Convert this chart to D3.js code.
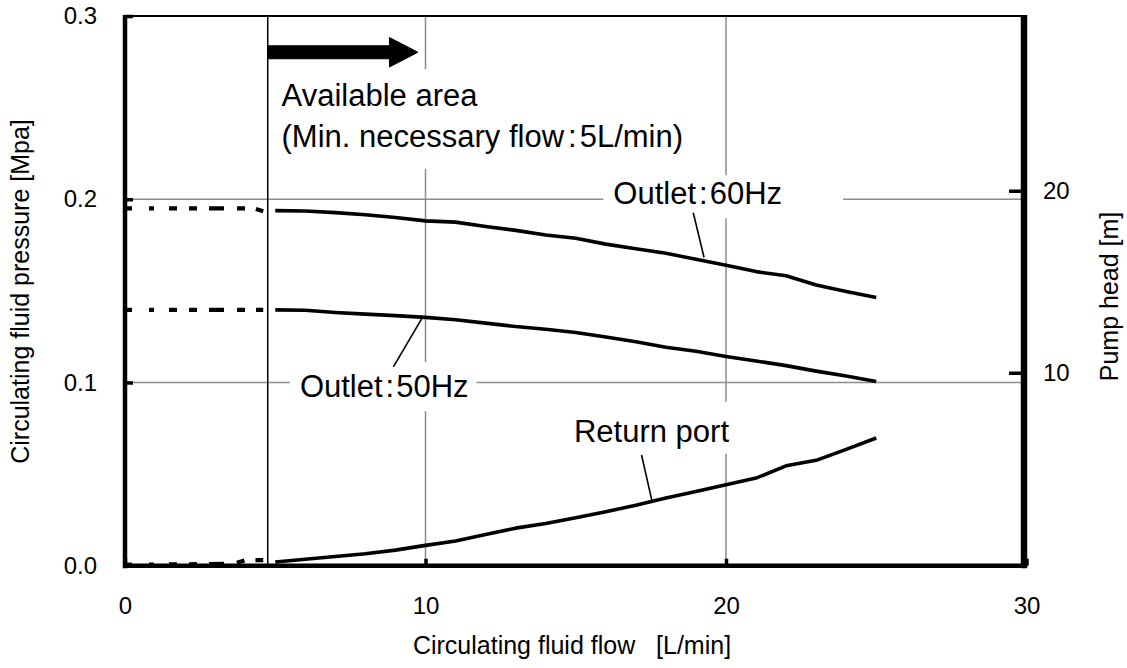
<!DOCTYPE html>
<html>
<head>
<meta charset="utf-8">
<script src="https://cdn.jsdelivr.net/npm/d3@7"></script>
<style>
  html, body { margin: 0; padding: 0; background: #fff; }
  svg { display: block; font-family: "Liberation Sans", Arial, sans-serif; }
</style>
</head>
<body>
<svg id="chart" width="1127" height="668"></svg>
<script>
// ---------- data ----------
const flow = [5, 6, 7, 8, 9, 10, 11, 12, 13, 14, 15, 16, 17, 18, 19, 20, 21, 22, 23, 24, 25];
const outlet60 = [0.1938, 0.1936, 0.1927, 0.1915, 0.1900, 0.1882, 0.1875, 0.1851, 0.1830, 0.1805, 0.1787, 0.1755, 0.1730, 0.1705, 0.1672, 0.1640, 0.1605, 0.1582, 0.1532, 0.1497, 0.1464];
const outlet50 = [0.1396, 0.1394, 0.1382, 0.1373, 0.1365, 0.1355, 0.1342, 0.1324, 0.1305, 0.1290, 0.1273, 0.1248, 0.1222, 0.1192, 0.1170, 0.1142, 0.1117, 0.1092, 0.1062, 0.1035, 0.1005];
const returnPort = [0.0020, 0.0035, 0.0050, 0.0065, 0.0085, 0.0111, 0.0135, 0.0170, 0.0205, 0.0230, 0.0262, 0.0295, 0.0330, 0.0370, 0.0405, 0.0442, 0.0478, 0.0545, 0.0575, 0.0635, 0.0697];

// dashed (below minimum flow) portions
const dashFlow60 = [0, 4.3, 4.6];
const dashOutlet60 = [0.195, 0.195, 0.1935];
const dashFlow50 = [0, 4.6];
const dashOutlet50 = [0.1396, 0.1396];
const dashFlowRet = [0, 3.6, 4.0, 4.6];
const dashReturn = [0.0005, 0.001, 0.003, 0.003];

const minFlow = 4.75;            // "available area" boundary line as drawn
const xTicks = [0, 10, 20, 30];
const yTicks = [0.0, 0.1, 0.2, 0.3];
const headTicks = [10, 20];

const xTitle = "Circulating fluid flow   [L/min]";
const yTitle = "Circulating fluid pressure [Mpa]";
const y2Title = "Pump head [m]";

// ---------- layout ----------
const svg = d3.select("#chart");
const x = d3.scaleLinear().domain([0, 30]).range([125, 1026.5]);
const y = d3.scaleLinear().domain([0, 0.3]).range([565.7, 16]);
const yHead = d3.scaleLinear().domain([-0.6, 29.6]).range([565.7, 16]);

// gridlines
const grid = svg.append("g").attr("stroke", "#8c8c8c").attr("stroke-width", 1.5);
grid.selectAll("line.gx").data([10, 20]).join("line")
  .attr("x1", d => x(d)).attr("x2", d => x(d))
  .attr("y1", y(0.3)).attr("y2", y(0));
grid.selectAll("line.gy").data([0.1, 0.2]).join("line")
  .attr("x1", x(0)).attr("x2", x(30) - 4)
  .attr("y1", d => y(d)).attr("y2", d => y(d));

// top border
svg.append("line").attr("x1", x(0)).attr("x2", x(30)).attr("y1", y(0.3)).attr("y2", y(0.3))
  .attr("stroke", "#000").attr("stroke-width", 2);

// min flow vertical line
svg.append("line").attr("x1", x(minFlow)).attr("x2", x(minFlow)).attr("y1", y(0.3)).attr("y2", y(0))
  .attr("stroke", "#000").attr("stroke-width", 1.5);

// ---------- annotation labels with white background ----------
function label(lines, fx, fp, pads, lineGap) {
  const g = svg.append("g");
  const rect = g.append("rect").attr("fill", "#fff");
  const t = g.append("text").attr("font-size", 31).attr("fill", "#000");
  lines.forEach((parts, i) => {
    parts.forEach((p, j) => {
      const ts = t.append("tspan").text(p.s);
      if (j === 0) ts.attr("x", x(fx)).attr("y", y(fp) + i * lineGap);
      if (p.dx) ts.attr("dx", p.dx);
    });
  });
  const b = t.node().getBBox();
  rect.attr("x", b.x - pads[0]).attr("y", b.y - pads[2])
    .attr("width", b.width + pads[0] + pads[1]).attr("height", b.height + pads[2] + pads[3]);
  return g;
}

label([[{s: "Available area"}], [{s: "(Min. necessary flow"}, {s: ":", dx: 4}, {s: "5L/min)", dx: 3}]],
  5.21, 0.2508, [9, 8, 9, 15], 40.7);
label([[{s: "Outlet"}, {s: ":", dx: 3}, {s: "50Hz", dx: 2}]], 5.82, 0.092, [10, 8, 7, 7], 0);
label([[{s: "Outlet"}, {s: ":", dx: 3}, {s: "60Hz", dx: 2}]], 16.25, 0.1973, [10, 61, 1, 7], 0);
label([[{s: "Return port"}]], 14.94, 0.0676, [9, 9, 12, 5], 0);

// leader lines
const leaders = [
  [[8.93, 0.1085], [9.91, 0.1358]],
  [[18.91, 0.1926], [19.27, 0.1682]],
  [[17.19, 0.0604], [17.53, 0.0358]]
];
svg.append("g").selectAll("line").data(leaders).join("line")
  .attr("x1", d => x(d[0][0])).attr("y1", d => y(d[0][1]))
  .attr("x2", d => x(d[1][0])).attr("y2", d => y(d[1][1]))
  .attr("stroke", "#000").attr("stroke-width", 1.6);

// arrow
const arrowY = 0.2802, shaftEnd = 8.8, tip = 9.75;
const ay = y(arrowY);
const arrowPts = [
  [x(minFlow), ay - 6.5], [x(shaftEnd), ay - 6.5], [x(shaftEnd), ay - 14.7],
  [x(tip), ay], [x(shaftEnd), ay + 14.7], [x(shaftEnd), ay + 6.5], [x(minFlow), ay + 6.5]
];
svg.append("polygon").attr("points", arrowPts.map(p => p.join(",")).join(" "))
  .attr("fill", "#000").attr("stroke", "#000").attr("stroke-width", 1);

// ---------- curves ----------
const line = d3.line().x(d => x(d[0])).y(d => y(d[1]));
const solid = [outlet60, outlet50, returnPort].map(v => flow.map((f, i) => [f, v[i]]));
svg.append("g").selectAll("path").data(solid).join("path")
  .attr("d", line).attr("fill", "none").attr("stroke", "#000")
  .attr("stroke-width", 3.6).attr("stroke-linejoin", "round");

const dashed = [
  dashFlow60.map((f, i) => [f, dashOutlet60[i]]),
  dashFlow50.map((f, i) => [f, dashOutlet50[i]]),
  dashFlowRet.map((f, i) => [f, dashReturn[i]])
];
svg.append("g").selectAll("path").data(dashed).join("path")
  .attr("d", line).attr("fill", "none").attr("stroke", "#000")
  .attr("stroke-width", 4.2)
  .attr("stroke-dasharray", "7,17,5,15,8,12,8,12,15,13,8,11,8,20");

// ---------- axes ----------
const axL = svg.append("g").attr("transform", `translate(${x(0)},0)`)
  .call(d3.axisLeft(y).tickValues(yTicks).tickFormat(d3.format(".1f")).tickSize(-8).tickPadding(28));
const axB = svg.append("g").attr("transform", `translate(0,${y(0)})`)
  .call(d3.axisBottom(x).tickValues(xTicks).tickFormat(d3.format("d")).tickSize(-7).tickPadding(31));
const axR = svg.append("g").attr("transform", `translate(${x(30) - 2.5},0)`)
  .call(d3.axisRight(yHead).tickValues(headTicks).tickFormat(d3.format("d")).tickSize(-15).tickPadding(19));

[axL, axB, axR].forEach(a => {
  a.select(".domain").remove();
  a.selectAll(".tick line").attr("stroke", "#000").attr("stroke-width", 3.5);
  a.selectAll(".tick text").attr("font-size", 24).attr("fill", "#000")
    .attr("font-family", "Liberation Sans, Arial, sans-serif");
});

// thick axis lines
svg.append("line").attr("x1", x(0)).attr("x2", x(0)).attr("y1", y(0.3) - 1).attr("y2", y(0) + 2.5)
  .attr("stroke", "#000").attr("stroke-width", 4.5);
svg.append("line").attr("x1", x(0)).attr("x2", x(30)).attr("y1", y(0)).attr("y2", y(0))
  .attr("stroke", "#000").attr("stroke-width", 4.5);
svg.append("line").attr("x1", x(30) - 2.5).attr("x2", x(30) - 2.5).attr("y1", y(0.3) - 1).attr("y2", y(0) + 2.5)
  .attr("stroke", "#000").attr("stroke-width", 6.5);

// ---------- titles ----------
svg.append("text").attr("x", 572).attr("y", 654)
  .attr("text-anchor", "middle").attr("font-size", 25).attr("fill", "#000")
  .style("white-space", "pre").text(xTitle);
svg.append("text").attr("transform", `translate(29,291.5) rotate(-90)`)
  .attr("text-anchor", "middle").attr("font-size", 25).attr("fill", "#000").text(yTitle);
svg.append("text").attr("transform", `translate(1118,296.5) rotate(-90)`)
  .attr("text-anchor", "middle").attr("font-size", 25).attr("fill", "#000").text(y2Title);
</script>
</body>
</html>
